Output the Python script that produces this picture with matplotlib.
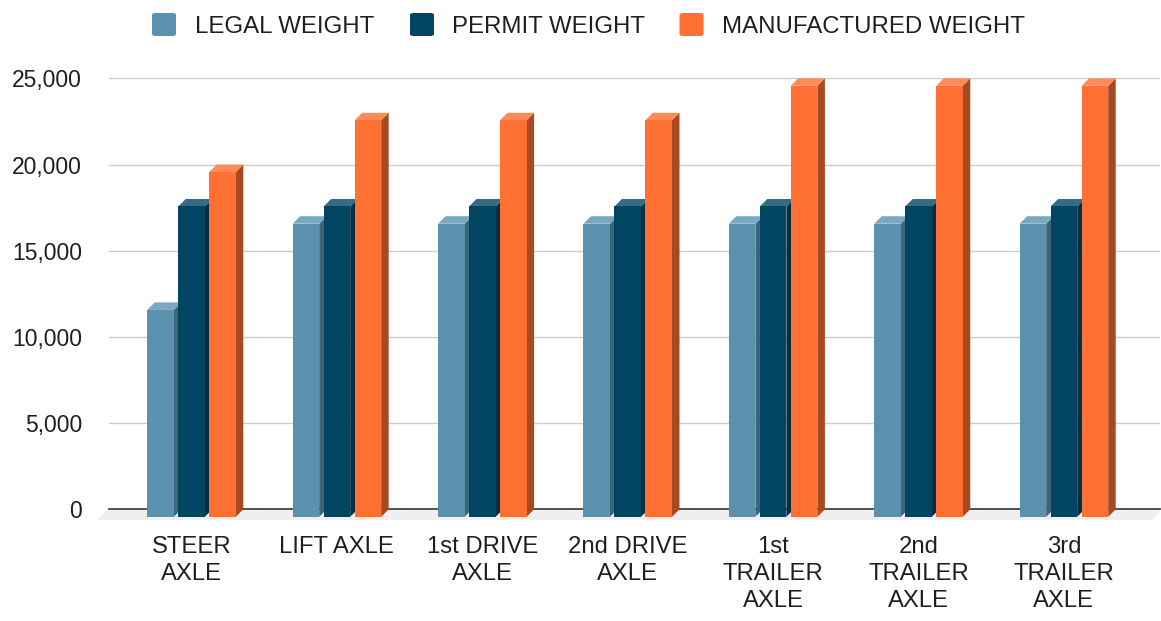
import numpy as np
import matplotlib.pyplot as plt
from matplotlib.patches import Polygon, FancyBboxPatch

plt.rcParams["font.family"] = ["Liberation Sans", "DejaVu Sans"]

# data
categories = ["STEER\nAXLE", "LIFT AXLE", "1st DRIVE\nAXLE", "2nd DRIVE\nAXLE",
              "1st\nTRAILER\nAXLE", "2nd\nTRAILER\nAXLE", "3rd\nTRAILER\nAXLE"]
series_names = ["LEGAL WEIGHT", "PERMIT WEIGHT", "MANUFACTURED WEIGHT"]
legal = [12000, 17000, 17000, 17000, 17000, 17000, 17000]
permit = [18000, 18000, 18000, 18000, 18000, 18000, 18000]
manufactured = [20000, 23000, 23000, 23000, 25000, 25000, 25000]
yticks = [0, 5000, 10000, 15000, 20000, 25000]

# front / top / side colours per series
front_c = ["#5a91af", "#024562", "#ff7032"]
top_c = ["#79a8c2", "#346c86", "#ff8b57"]
side_c = ["#3e6479", "#012e43", "#a84a20"]

W, H = 1161, 621
fig = plt.figure(figsize=(W / 100, H / 100), dpi=100)

# axes placed in pixels
ax_l, ax_r, ax_t, ax_b = 109, 1160, 78.3, 509.3
ax = fig.add_axes([ax_l / W, (H - ax_b) / H, (ax_r - ax_l) / W, (ax_b - ax_t) / H])

group_px = 145.4
x0 = -(191.5 - ax_l) / group_px
x1 = x0 + (ax_r - ax_l) / group_px
ax.set_xlim(x0, x1)
ax.set_ylim(0, 25000)

px_x = 1.0 / group_px                 # data units per pixel (x)
px_y = 25000 / (ax_b - ax_t)          # data units per pixel (y)
dx = 7.5 * px_x
dy = 7.5 * px_y
bw = 26.6 * px_x
step = 31 * px_x

# floor
fl = 11
floor = Polygon([(x0 - 1 * px_x, 0), (x1 + 1 * px_x, 0),
                 (x1 - 8 * px_x, -fl * px_y), (x0 - 12 * px_x, -fl * px_y)],
                closed=True, facecolor="#efefef", edgecolor="none", clip_on=False, zorder=1)
ax.add_patch(floor)

# gridlines + baseline
for v in yticks[1:]:
    ax.axhline(v, color="#cccccc", lw=1.0, zorder=2)
ax.axhline(0, color="#444444", lw=1.3, zorder=3, clip_on=False)

# bars
for j, vals in enumerate([legal, permit, manufactured]):
    for i, v in enumerate(vals):
        xl = i + (j - 1) * step - bw / 2
        xr = xl + bw
        front = Polygon([(xl, -dy), (xr, -dy), (xr, v - dy), (xl, v - dy)],
                        closed=True, facecolor=front_c[j], edgecolor="none", clip_on=False, zorder=5)
        top = Polygon([(xl, v - dy), (xr, v - dy), (xr + dx, v), (xl + dx, v)],
                      closed=True, facecolor=top_c[j], edgecolor="none", clip_on=False, zorder=5)
        side = Polygon([(xr, -dy), (xr, v - dy), (xr + dx, v), (xr + dx, 0)],
                       closed=True, facecolor=side_c[j], edgecolor="none", clip_on=False, zorder=5)
        for p in (side, top, front):
            ax.add_patch(p)

ax.set_yticks(yticks)
ax.set_yticklabels([f"{v:,}" for v in yticks])
ax.set_xticks(range(len(categories)))
ax.set_xticklabels(categories, linespacing=1.27)
ax.tick_params(axis="y", length=0, pad=19.5, labelsize=16.5, labelcolor="#1f1f1f")
ax.tick_params(axis="x", length=0, pad=19.5, labelsize=17.2, labelcolor="#1f1f1f")
for s in ax.spines.values():
    s.set_visible(False)

# legend
leg_sq = [152, 410, 679.5]
leg_tx = [195, 451.5, 721.5]
for j in range(3):
    sq = FancyBboxPatch((leg_sq[j] / W, (H - 36) / H), 24 / W, 23 / H,
                        boxstyle="round,pad=0,rounding_size=0.003",
                        transform=fig.transFigure, facecolor=front_c[j], edgecolor="none")
    fig.patches.append(sq)
    fig.text(leg_tx[j] / W, (H - 24.5) / H, series_names[j], fontsize=17.3,
             color="#1f1f1f", va="center_baseline", ha="left")

fig.savefig("out.png", dpi=100)
